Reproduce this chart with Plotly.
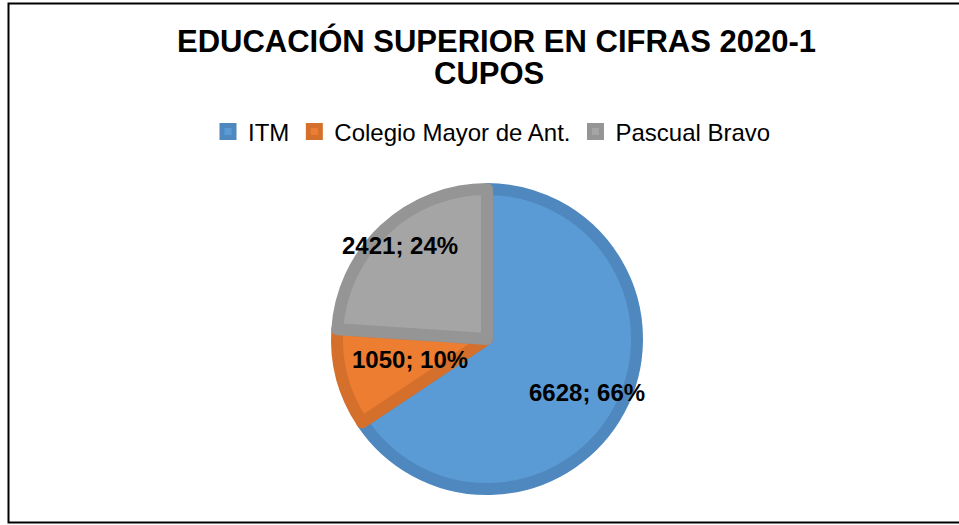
import math
import plotly.graph_objects as go

labels = ["ITM", "Colegio Mayor de Ant.", "Pascual Bravo"]
values = [6628, 1050, 2421]
fill_colors = ["#5B9BD5", "#ED7D31", "#A5A5A5"]
edge_colors = ["#4F88BE", "#D4702C", "#959595"]
title_line1 = "EDUCACIÓN SUPERIOR EN CIFRAS 2020-1"
title_line2 = "CUPOS"
label_radius_frac = [0.73, 0.51, 0.82]  # data label placement (best fit)

W, H = 959, 525
cx, cy, R_out = 487, 339, 156
edge_w = 12
r = R_out - edge_w / 2
FONT = "Arial, Liberation Sans, sans-serif"

fig = go.Figure(
    go.Pie(
        labels=labels,
        values=values,
        sort=False,
        direction="clockwise",
        rotation=0,
        marker=dict(colors=fill_colors, line=dict(color=edge_colors, width=edge_w)),
        textinfo="none",
        hoverinfo="label+value+percent",
        domain=dict(x=[(cx - r) / W, (cx + r) / W], y=[1 - (cy + r) / H, 1 - (cy - r) / H]),
    )
)

# data labels "value; percent" placed along each slice's bisector
total = sum(values)
annotations = []
start = 0.0
for v, f in zip(values, label_radius_frac):
    frac = v / total
    mid = 2 * math.pi * (start + frac / 2)
    start += frac
    px = cx + f * R_out * math.sin(mid)
    py = cy - f * R_out * math.cos(mid)
    annotations.append(
        dict(
            text=f"{v}; {round(frac * 100)}%",
            x=px / W,
            y=1 - py / H,
            xref="paper",
            yref="paper",
            xanchor="center",
            yanchor="middle",
            showarrow=False,
            font=dict(family=FONT, size=24, color="black", weight="bold"),
        )
    )

annotations.append(
    dict(
        text=title_line2,
        x=489 / W,
        y=1 - 73 / H,
        xref="paper",
        yref="paper",
        xanchor="center",
        yanchor="middle",
        showarrow=False,
        font=dict(family=FONT, size=31, color="black", weight="bold"),
    )
)

fig.update_layout(
    width=W,
    height=H,
    margin=dict(l=0, r=0, t=0, b=0),
    paper_bgcolor="white",
    plot_bgcolor="white",
    title=dict(
        text=title_line1,
        x=496.5 / W,
        xanchor="center",
        y=1 - 41.5 / H,
        yanchor="middle",
        font=dict(family=FONT, size=31, color="black", weight="bold"),
    ),
    legend=dict(
        orientation="h",
        x=492 / W,
        xanchor="center",
        y=1 - 132 / H,
        yanchor="middle",
        font=dict(family=FONT, size=24, color="black"),
        itemwidth=30,
        bgcolor="rgba(0,0,0,0)",
    ),
    annotations=annotations,
    shapes=[
        dict(
            type="rect",
            xref="paper",
            yref="paper",
            x0=8.5 / W,
            x1=1.02,
            y0=1 - 522.5 / H,
            y1=1 - 3.5 / H,
            line=dict(color="black", width=2),
            fillcolor="rgba(0,0,0,0)",
            layer="below",
        )
    ],
)

fig.write_html(
    "out.html",
    config={"displayModeBar": False},
    post_script="document.body.style.margin='0';document.body.style.overflow='hidden';",
)
